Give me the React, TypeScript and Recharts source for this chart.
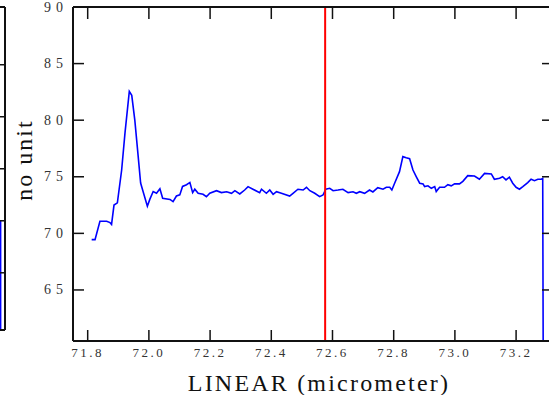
import { LineChart, Line, XAxis, YAxis, ReferenceLine, Label } from "recharts";

// profile trace (micrometer / no unit)
const positions = [
  71.813, 71.824, 71.84, 71.862, 71.873, 71.878, 71.886, 71.897, 71.911, 71.922,
  71.936, 71.944, 71.954, 71.965, 71.973, 71.981, 71.995, 72.003, 72.014, 72.025,
  72.036, 72.045, 72.069, 72.079, 72.09, 72.101, 72.11, 72.123, 72.134, 72.143,
  72.15, 72.161, 72.177, 72.188, 72.199, 72.221, 72.237, 72.254, 72.27, 72.281,
  72.297, 72.313, 72.324, 72.34, 72.362, 72.368, 72.384, 72.395, 72.406, 72.417,
  72.433, 72.46, 72.471, 72.487, 72.504, 72.515, 72.526, 72.542, 72.558, 72.569,
  72.578, 72.591, 72.602, 72.618, 72.634, 72.651, 72.667, 72.678, 72.689, 72.705,
  72.721, 72.732, 72.748, 72.765, 72.776, 72.787, 72.794, 72.803, 72.819, 72.83,
  72.841, 72.852, 72.863, 72.874, 72.885, 72.896, 72.901, 72.912, 72.923, 72.934,
  72.939, 72.95, 72.966, 72.977, 72.988, 72.999, 73.015, 73.026, 73.042, 73.064,
  73.08, 73.097, 73.119, 73.129, 73.146, 73.156, 73.167, 73.178, 73.189, 73.2,
  73.211, 73.222, 73.238, 73.249, 73.26, 73.271, 73.282, 73.287, 73.289,
];
const signal = [
  69.45, 69.45, 71.07, 71.07, 70.95, 70.8, 72.5, 72.7, 75.6, 78.9,
  82.55, 82.2, 80.0, 76.8, 74.45, 73.7, 72.4, 73.0, 73.7, 73.55,
  73.95, 73.1, 73.0, 72.8, 73.3, 73.4, 74.15, 74.3, 74.5, 73.6,
  73.9, 73.54, 73.45, 73.24, 73.54, 73.77, 73.6, 73.68, 73.54, 73.77,
  73.48, 73.83, 74.13, 73.9, 73.6, 73.9, 73.54, 73.83, 73.45, 73.68,
  73.54, 73.3, 73.54, 73.9, 73.83, 74.07, 73.77, 73.54, 73.24, 73.39,
  73.9, 73.98, 73.77, 73.83, 73.9, 73.6, 73.68, 73.54, 73.68, 73.54,
  73.83, 73.66, 74.04, 73.9, 74.07, 74.07, 73.83, 74.43, 75.45, 76.78,
  76.68, 76.6, 75.6, 75.0, 74.43, 74.37, 74.13, 74.2, 73.98, 74.13,
  73.69, 74.07, 74.07, 74.3, 74.2, 74.37, 74.37, 74.6, 75.1, 75.07,
  74.78, 75.3, 75.25, 74.78, 74.87, 75.0, 74.72, 74.96, 74.43, 74.07,
  73.9, 74.13, 74.49, 74.78, 74.66, 74.78, 74.78, 74.84, 55,
];
const xTicks = [71.8, 72.0, 72.2, 72.4, 72.6, 72.8, 73.0, 73.2];
const yTicks = [65, 70, 75, 80, 85, 90];
const markerPosition = 72.576;

// the panel to the left, only its right edge shows
const sidePositions = [0, 9.6, 9.6];
const sideSignal = [1, 1, -3];
const sideTicks = [0, 1, 2, 3, 4];

const SERIF = "'Liberation Serif', 'Times New Roman', serif";
const INK = "#111";
const X_DOMAIN = [71.752, 73.3206];
const Y_DOMAIN = [60.49, 90];

const rows = positions.map((x, i) => ({ x, y: signal[i] }));
const sideRows = sidePositions.map((x, i) => ({ x, y: sideSignal[i] }));

function BottomTick(props: any) {
  const { x, y, payload } = props;
  return (
    <g>
      <line x1={x} x2={x} y1={y} y2={y - 11} stroke={INK} strokeWidth={1.5} />
      <text
        x={x}
        y={y + 16}
        textAnchor="middle"
        fontSize={13}
        letterSpacing={2.5}
        fill="#333"
        style={{ fontFamily: SERIF }}
      >
        {Number(payload.value).toFixed(1)}
      </text>
    </g>
  );
}

function TopTick(props: any) {
  const { x, y } = props;
  return <line x1={x} x2={x} y1={y} y2={y + 12} stroke={INK} strokeWidth={1.5} />;
}

function LeftTick(props: any) {
  const { x, y, payload } = props;
  return (
    <g>
      <line x1={x} x2={x + 11} y1={y} y2={y} stroke={INK} strokeWidth={1.5} />
      <text
        x={x - 5}
        y={y + 4.5}
        textAnchor="end"
        fontSize={14}
        letterSpacing={5}
        fill="#333"
        style={{ fontFamily: SERIF }}
      >
        {payload.value}
      </text>
    </g>
  );
}

function RightTick(props: any) {
  const { x, y } = props;
  return <line x1={x} x2={x - 11} y1={y} y2={y} stroke={INK} strokeWidth={1.5} />;
}

export default function App() {
  return (
    <div
      style={{
        position: "absolute",
        left: 0,
        top: 0,
        width: 549,
        height: 395,
        overflow: "hidden",
        background: "#fff",
      }}
    >
      <div style={{ position: "absolute", left: -105, top: 0 }}>
        <LineChart width={120} height={395} data={sideRows} margin={{ top: 0, right: 0, bottom: 0, left: 0 }}>
          <XAxis
            dataKey="x"
            type="number"
            domain={[0, 10]}
            allowDataOverflow
            height={65}
            tick={false}
            tickLine={false}
            axisLine={{ stroke: INK, strokeWidth: 2 }}
          />
          <XAxis
            xAxisId="top"
            dataKey="x"
            orientation="top"
            type="number"
            domain={[0, 10]}
            allowDataOverflow
            height={7}
            tick={false}
            tickLine={false}
            axisLine={{ stroke: INK, strokeWidth: 2 }}
          />
          <YAxis
            orientation="right"
            type="number"
            domain={[-1.1, 5.11]}
            allowDataOverflow
            width={10}
            ticks={sideTicks}
            interval={0}
            tickSize={0}
            tickMargin={0}
            tickLine={false}
            tick={(p: any) => <RightTick {...p} />}
            axisLine={{ stroke: INK, strokeWidth: 2 }}
          />
          <Line
            dataKey="y"
            type="linear"
            stroke="#0000ff"
            strokeWidth={1.6}
            dot={false}
            isAnimationActive={false}
          />
          {/* carries the top frame axis */}
          <Line
            xAxisId="top"
            dataKey="y"
            stroke="none"
            dot={false}
            activeDot={false}
            isAnimationActive={false}
          />
        </LineChart>
      </div>

      <div style={{ position: "absolute", left: 0, top: 0 }}>
        <LineChart width={560} height={395} data={rows} margin={{ top: 0, right: 0, bottom: 0, left: 0 }}>
          <XAxis
            dataKey="x"
            type="number"
            domain={X_DOMAIN}
            allowDataOverflow
            ticks={xTicks}
            interval={0}
            height={54}
            tickSize={0}
            tickMargin={0}
            tickLine={false}
            tick={(p: any) => <BottomTick {...p} />}
            axisLine={{ stroke: INK, strokeWidth: 2 }}
          >
            <Label
              content={() => (
                <text
                  x={319}
                  y={391}
                  textAnchor="middle"
                  fontSize={24}
                  letterSpacing={2.2}
                  fill={INK}
                  style={{ fontFamily: SERIF }}
                >
                  LINEAR (micrometer)
                </text>
              )}
            />
          </XAxis>
          <XAxis
            xAxisId="top"
            dataKey="x"
            orientation="top"
            type="number"
            domain={X_DOMAIN}
            allowDataOverflow
            ticks={xTicks}
            interval={0}
            height={7}
            tickSize={0}
            tickMargin={0}
            tickLine={false}
            tick={(p: any) => <TopTick {...p} />}
            axisLine={{ stroke: INK, strokeWidth: 2 }}
          />
          <YAxis
            type="number"
            domain={Y_DOMAIN}
            allowDataOverflow
            ticks={yTicks}
            interval={0}
            width={73}
            tickSize={0}
            tickMargin={0}
            tickLine={false}
            tick={(p: any) => <LeftTick {...p} />}
            axisLine={{ stroke: INK, strokeWidth: 2 }}
          >
            <Label
              content={() => (
                <text
                  x={32}
                  y={160}
                  transform="rotate(-90, 32, 160)"
                  textAnchor="middle"
                  fontSize={24}
                  letterSpacing={2}
                  fill={INK}
                  style={{ fontFamily: SERIF }}
                >
                  no unit
                </text>
              )}
            />
          </YAxis>
          <YAxis
            yAxisId="right"
            orientation="right"
            type="number"
            domain={Y_DOMAIN}
            allowDataOverflow
            ticks={yTicks}
            interval={0}
            width={7}
            tickSize={0}
            tickMargin={0}
            tickLine={false}
            tick={(p: any) => <RightTick {...p} />}
            axisLine={{ stroke: INK, strokeWidth: 2 }}
          />
          <Line
            dataKey="y"
            type="linear"
            stroke="#0000ff"
            strokeWidth={1.6}
            dot={false}
            isAnimationActive={false}
          />
          {/* carries the top and right frame axes */}
          <Line
            xAxisId="top"
            yAxisId="right"
            dataKey="y"
            stroke="none"
            dot={false}
            activeDot={false}
            isAnimationActive={false}
          />
          <ReferenceLine x={markerPosition} stroke="#ff0000" strokeWidth={2} />
        </LineChart>
      </div>
    </div>
  );
}
